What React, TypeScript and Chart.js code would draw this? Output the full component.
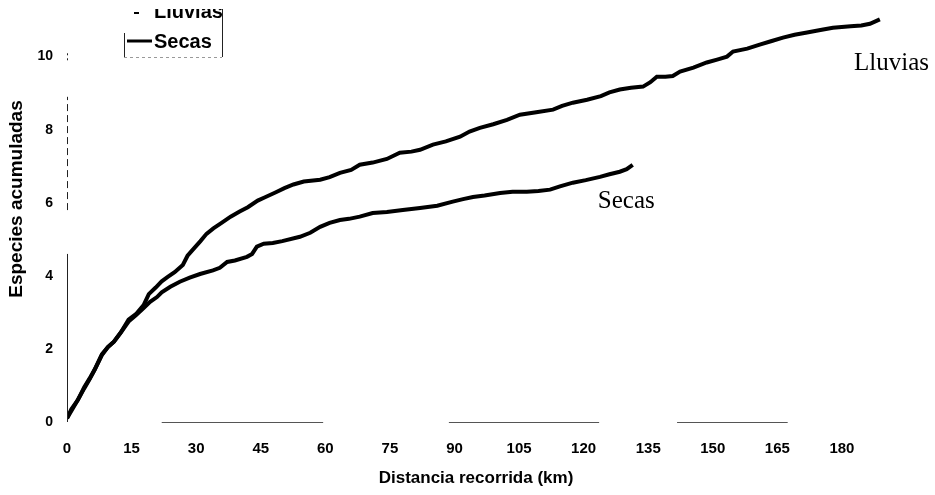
import React, { useEffect, useRef } from "react";
import { Chart, registerables } from "chart.js";

Chart.register(...registerables);

const xTickStep = 15;
const yTickStep = 2;

const seriesNames = ["Lluvias", "Secas"];

const lluviasKm = [0, 1, 2.5, 4, 5.3, 6.5, 8.1, 9.5, 10.9, 12.5, 14.3, 16, 17.8, 19, 20.6, 22, 23.4, 25, 26.9, 28, 29.7, 31, 32.4, 34, 35.9, 38, 40.1, 42, 44.3, 46, 48.4, 50.5, 52.6, 55, 58.8, 61, 63.4, 66, 68, 71, 74.3, 77.3, 80, 82, 85, 88, 91.3, 93.5, 95.9, 99, 102.2, 105.2, 109, 112.9, 115, 117.5, 120.8, 124, 126, 128.4, 131, 133.8, 135.5, 137, 139, 140.7, 142.4, 145.5, 148.6, 151, 153.3, 154.7, 158, 160.9, 163.5, 166.3, 169, 171.9, 175, 177.9, 182, 184.5, 186.5, 188.8];
const lluviasSpecies = [0.1, 0.35, 0.6, 0.95, 1.2, 1.45, 1.85, 2.05, 2.2, 2.45, 2.8, 2.95, 3.2, 3.5, 3.68, 3.85, 3.97, 4.1, 4.3, 4.55, 4.78, 4.95, 5.15, 5.3, 5.45, 5.62, 5.76, 5.88, 6.06, 6.15, 6.28, 6.4, 6.5, 6.58, 6.63, 6.7, 6.82, 6.9, 7.04, 7.1, 7.2, 7.37, 7.4, 7.45, 7.59, 7.68, 7.81, 7.95, 8.05, 8.15, 8.27, 8.41, 8.48, 8.55, 8.65, 8.74, 8.82, 8.92, 9.02, 9.1, 9.15, 9.18, 9.3, 9.45, 9.45, 9.47, 9.59, 9.7, 9.84, 9.92, 10.0, 10.14, 10.22, 10.33, 10.42, 10.52, 10.6, 10.66, 10.73, 10.79, 10.83, 10.85, 10.9, 11.02];

const secasKm = [0, 1, 2.5, 4, 5.3, 6.5, 8.1, 9.5, 10.9, 12.5, 14.3, 16, 17.8, 19.3, 20.9, 22, 24, 26.2, 28.5, 30.9, 33.9, 35.5, 37.2, 39, 41.8, 43, 44.1, 45.7, 47.8, 50, 54.1, 56.5, 58.8, 61, 63.4, 65.5, 68, 71, 74.3, 78, 82, 86, 89.6, 92, 94.3, 97, 100.6, 103.5, 106.8, 109.5, 112.2, 114.5, 117.5, 120.5, 123.8, 126, 128.4, 130, 131.4];
const secasSpecies = [0.1, 0.3, 0.6, 0.92, 1.18, 1.45, 1.83, 2.05, 2.2, 2.45, 2.75, 2.92, 3.12, 3.29, 3.42, 3.55, 3.7, 3.84, 3.95, 4.05, 4.15, 4.22, 4.38, 4.42, 4.52, 4.6, 4.8, 4.88, 4.9, 4.95, 5.07, 5.18, 5.34, 5.45, 5.53, 5.56, 5.62, 5.72, 5.75, 5.8, 5.86, 5.92, 6.03, 6.1, 6.16, 6.2, 6.27, 6.3, 6.3, 6.32, 6.36, 6.45, 6.55, 6.62, 6.71, 6.78, 6.85, 6.92, 7.04];

const xTitle = "Distancia recorrida (km)";
const yTitle = "Especies acumuladas";

const SANS = "'Liberation Sans', Arial, sans-serif";
const SERIF = "'Liberation Serif', 'Times New Roman', serif";

const decorPlugin = {
  id: "decor",
  afterDraw(chart: any) {
    const ctx = chart.ctx;
    const xs = chart.scales.x;
    const ys = chart.scales.y;
    const left = chart.chartArea.left;
    const bottom = chart.chartArea.bottom;
    ctx.save();
    // y axis title
    ctx.save();
    ctx.translate(17, 199);
    ctx.rotate(-Math.PI / 2);
    ctx.fillStyle = "#000";
    ctx.font = "bold 19px " + SANS;
    ctx.textAlign = "center";
    ctx.textBaseline = "middle";
    ctx.fillText(yTitle, 0, 0);
    ctx.restore();
    // broken y axis line (as in the scanned figure)
    ctx.strokeStyle = "#222";
    ctx.lineWidth = 1;
    ctx.beginPath();
    ctx.moveTo(left + 0.5, ys.getPixelForValue(0));
    ctx.lineTo(left + 0.5, ys.getPixelForValue(4.6));
    ctx.stroke();
    ctx.setLineDash([7, 4]);
    ctx.beginPath();
    ctx.moveTo(left + 0.5, ys.getPixelForValue(5.8));
    ctx.lineTo(left + 0.5, ys.getPixelForValue(8.9));
    ctx.stroke();
    ctx.setLineDash([2, 3]);
    ctx.beginPath();
    ctx.moveTo(left + 0.5, ys.getPixelForValue(9.9));
    ctx.lineTo(left + 0.5, ys.getPixelForValue(10.1));
    ctx.stroke();
    ctx.setLineDash([]);
    // broken x axis segments
    ctx.strokeStyle = "#555";
    const segs = [[22, 59.5], [88.7, 123.6], [141.7, 167.4]];
    segs.forEach(([a, b]) => {
      ctx.beginPath();
      ctx.moveTo(xs.getPixelForValue(a), bottom + 0.5);
      ctx.lineTo(xs.getPixelForValue(b), bottom + 0.5);
      ctx.stroke();
    });
    // series annotations
    ctx.fillStyle = "#000";
    ctx.font = "25px " + SERIF;
    ctx.textAlign = "left";
    ctx.textBaseline = "alphabetic";
    ctx.fillText(seriesNames[0], xs.getPixelForValue(182.8), ys.getPixelForValue(9.63));
    ctx.fillText(seriesNames[1], xs.getPixelForValue(123.3), ys.getPixelForValue(5.86));
    // legend (partly cut off at the top, as in the reference)
    ctx.font = "bold 20px " + SANS;
    ctx.fillText(seriesNames[0], 154, 18);
    ctx.fillStyle = "#fff";
    ctx.fillRect(150, 0, 72, 9);
    ctx.fillStyle = "#000";
    ctx.fillText(seriesNames[1], 154, 48);
    ctx.strokeStyle = "#000";
    ctx.lineWidth = 2;
    ctx.beginPath();
    ctx.moveTo(134, 13);
    ctx.lineTo(139, 13);
    ctx.stroke();
    ctx.lineWidth = 3;
    ctx.beginPath();
    ctx.moveTo(127, 41);
    ctx.lineTo(152, 41);
    ctx.stroke();
    ctx.lineWidth = 1;
    ctx.strokeStyle = "#222";
    ctx.beginPath();
    ctx.moveTo(222.5, 9);
    ctx.lineTo(222.5, 57);
    ctx.moveTo(124.5, 33);
    ctx.lineTo(124.5, 57);
    ctx.stroke();
    ctx.strokeStyle = "#999";
    ctx.setLineDash([3, 3]);
    ctx.beginPath();
    ctx.moveTo(124, 57.5);
    ctx.lineTo(222, 57.5);
    ctx.stroke();
    ctx.restore();
  },
};

export default function App() {
  const ref = useRef<HTMLCanvasElement>(null);
  useEffect(() => {
    if (!ref.current) return;
    const chart = new Chart(ref.current, {
      type: "line",
      data: {
        datasets: [
          {
            label: seriesNames[0],
            data: lluviasKm.map((x, i) => ({ x, y: lluviasSpecies[i] })),
            borderColor: "#000",
            borderWidth: 4,
            pointRadius: 0,
            tension: 0,
            fill: false,
          },
          {
            label: seriesNames[1],
            data: secasKm.map((x, i) => ({ x, y: secasSpecies[i] })),
            borderColor: "#000",
            borderWidth: 4,
            pointRadius: 0,
            tension: 0,
            fill: false,
          },
        ],
      },
      options: {
        animation: false,
        responsive: false,
        layout: { padding: { left: 0, right: 50, top: 0, bottom: 0 } },
        plugins: { legend: { display: false }, tooltip: { enabled: false } },
        scales: {
          x: {
            type: "linear",
            min: 0,
            max: 190,
            grid: { display: false, drawTicks: false },
            border: { display: false },
            ticks: {
              stepSize: xTickStep,
              includeBounds: false,
              maxRotation: 0,
              autoSkip: false,
              padding: 18,
              color: "#000",
              font: { family: SANS, size: 15, weight: "bold" },
            },
            title: {
              display: true,
              text: xTitle,
              color: "#000",
              font: { family: SANS, size: 17, weight: "bold" },
              padding: { top: 0, bottom: 6 },
            },
            afterFit: (s: any) => {
              s.height = 73;
              s.paddingLeft = 0;
              s.paddingRight = 0;
            },
          },
          y: {
            min: 0,
            max: 11.55,
            grid: { display: false, drawTicks: false },
            border: { display: false },
            ticks: {
              stepSize: yTickStep,
              includeBounds: false,
              padding: 14,
              color: "#000",
              font: { family: SANS, size: 14, weight: "bold" },
            },
            title: { display: false },
            afterFit: (s: any) => {
              s.width = 67;
              s.paddingTop = 0;
              s.paddingBottom = 0;
            },
          },
        },
      },
      plugins: [decorPlugin],
    } as any);
    return () => chart.destroy();
  }, []);
  return (
    <div style={{ position: "absolute", left: 0, top: 0, width: 935, height: 495, background: "#fff" }}>
      <canvas ref={ref} width={935} height={495} />
    </div>
  );
}
